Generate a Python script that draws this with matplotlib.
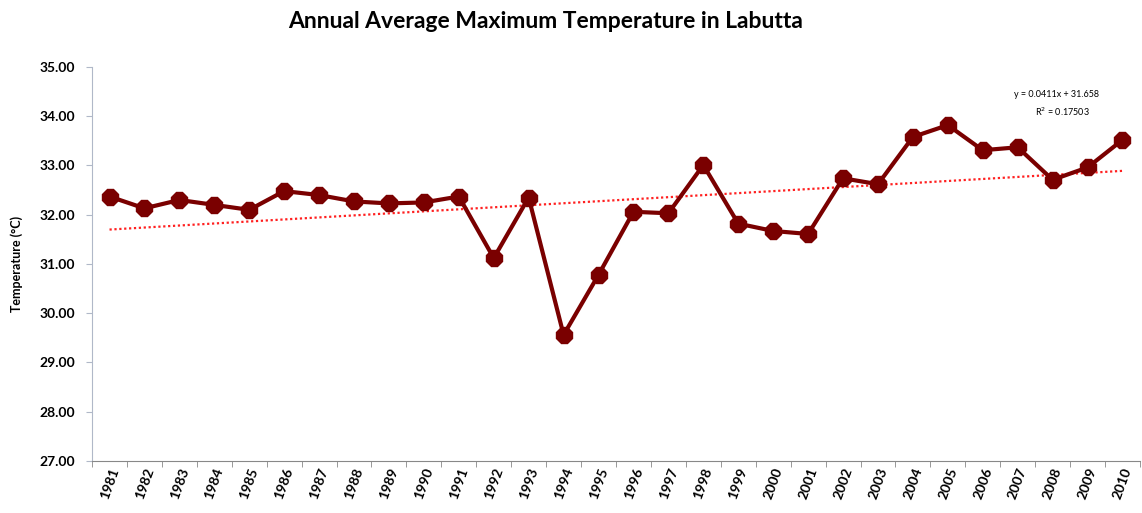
#!/usr/bin/env python3
'''
Annual average maximum temperature in Labutta, 1981-2010, with linear trend.
'''

import matplotlib
matplotlib.use('Agg')
import matplotlib.pyplot as plt
import numpy as np

years = [str(y) for y in range(1981, 2011)]
temps = [32.37, 32.13, 32.30, 32.20, 32.10, 32.48, 32.40, 32.27, 32.23, 32.25,
         32.37, 31.12, 32.35, 29.56, 30.78, 32.06, 32.03, 33.01, 31.82, 31.67,
         31.61, 32.74, 32.62, 33.58, 33.82, 33.31, 33.37, 32.71, 32.96, 33.52]
# trendline as reported on the chart: y = 0.0411x + 31.658
slope, intercept = 0.0411, 31.658
eq_text = 'y = 0.0411x + 31.658'
r2_text = 'R$^2$ = 0.17503'

plt.rcParams['font.family'] = ['Lato', 'DejaVu Sans']


def main():
    fig = plt.figure(figsize=(11.42, 5.13), dpi=100)
    ax = fig.add_axes([0.0806, 0.1014, 0.9176, 0.768])

    x = np.arange(len(years))
    ax.plot(x, temps, color='#7a0000', lw=3, marker='8', ms=12.5,
            markeredgecolor='#7a0000', zorder=3)
    trend = slope * (x + 1) + intercept
    ax.plot(x, trend, color='#ff2020', lw=1.6, ls=(0, (1, 1.2)), zorder=2)

    ax.set_xlim(-0.5, len(years) - 0.5)
    ax.set_ylim(27, 35)
    ax.set_yticks(np.arange(27, 35.5, 1))
    ax.set_yticklabels(['{:.2f}'.format(v) for v in np.arange(27, 35.5, 1)],
                       fontsize=10, fontweight='bold')
    ax.set_xticks(x)
    ax.set_xticklabels(years, rotation=70, fontsize=10, fontweight='bold',
                       ha='center', va='top')
    ax.set_xticks(np.arange(-0.5, len(years)), minor=True)
    ax.tick_params(axis='x', which='major', length=0, pad=4)
    ax.tick_params(axis='x', which='minor', length=4, color='#888888')
    ax.tick_params(axis='y', length=4, color='#b0b8c8', pad=8)

    for s in ('top', 'right'):
        ax.spines[s].set_visible(False)
    ax.spines['left'].set_color('#b0b8c8')
    ax.spines['bottom'].set_color('#888888')

    ax.set_ylabel('Temperature (°C)', fontsize=9, fontweight='bold', labelpad=12)

    fig.text(0.478, 0.958, 'Annual Average Maximum Temperature in Labutta',
             ha='center', va='center', fontsize=16.5, fontweight='bold')
    fig.text(0.925, 0.815, eq_text, ha='center', va='center', fontsize=6.5)
    fig.text(0.93, 0.783, r2_text, ha='center', va='center', fontsize=6.5)

    fig.savefig('out.png', dpi=100)


if __name__ == '__main__':
    main()
